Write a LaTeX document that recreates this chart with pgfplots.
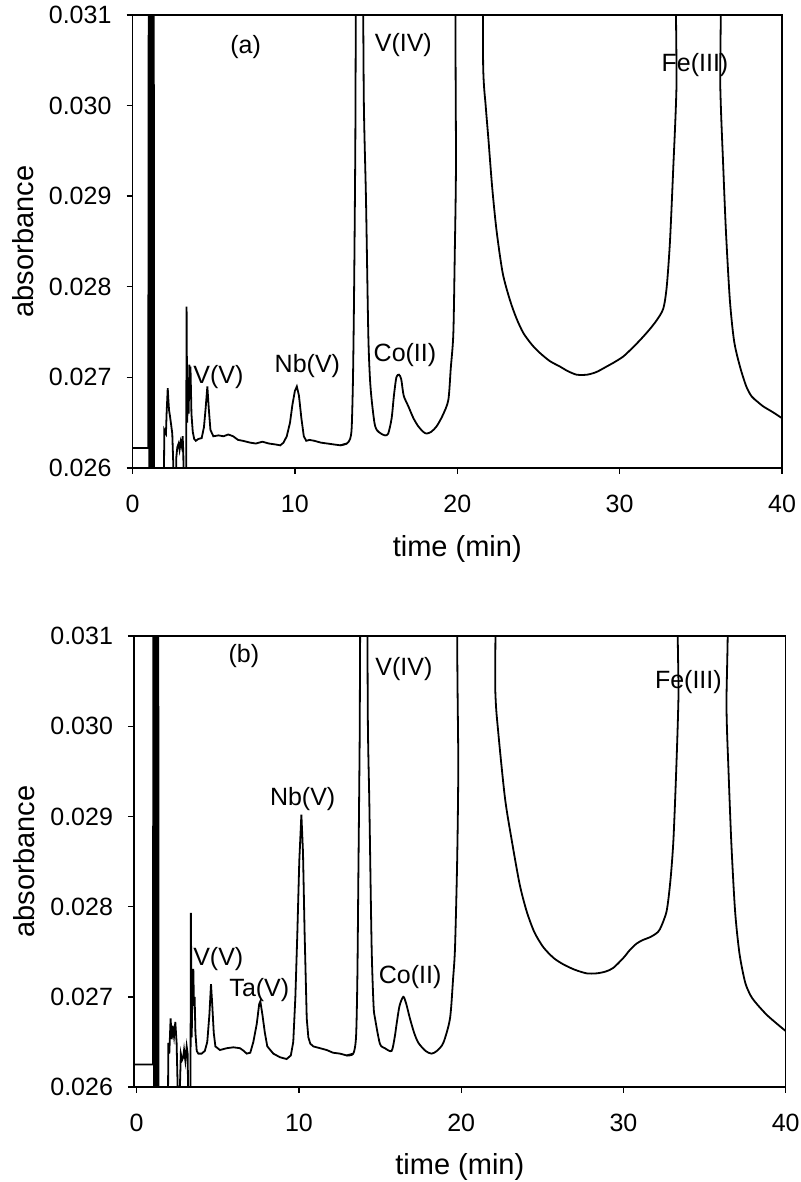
\documentclass[border=0pt]{standalone}
\usepackage{fontspec}
\setmainfont{Liberation Sans}
\usepackage{pgfplots}
\pgfplotsset{compat=1.18}
\newcommand{\annfont}{\fontsize{12.5}{15}\selectfont}
\pgfplotsset{
  chrom/.style={
    scale only axis, anchor=south west,
    xmax=40, ymin=0.026, ymax=0.031,
    xtick={0,10,20,30,40},
    ytick={0.026,0.027,0.028,0.029,0.030,0.031},
    tick align=outside, xtick pos=left, ytick pos=left,
    major tick length=3pt,
    axis line style={line width=0.7pt},
    tick style={line width=0.7pt, black},
    scaled y ticks=false,
    yticklabel style={/pgf/number format/fixed,/pgf/number format/fixed zerofill,/pgf/number format/precision=3, xshift=-4pt},
    xticklabel style={yshift=-7pt},
    /pgf/number format/assume math mode=true,
    tick label style={font=\fontsize{12.5}{14}\selectfont},
    label style={font=\fontsize{14.5}{17}\selectfont},
    xlabel={time (min)}, ylabel={absorbance},
    ylabel style={at={(axis description cs:-0.168,0.5)}, anchor=center},
    cycle list={{black, line width=0.9pt, no markers}},
  },
  sharp/.style={black, line width=0.9pt, no markers},
  smoothp/.style={black, line width=0.9pt, no markers, smooth, tension=0.45},
}
\begin{document}
\begin{tikzpicture}
\path[use as bounding box] (0,0) rectangle (400pt,591pt);
% ---------------- (a) ----------------
\begin{axis}[chrom, at={(66.25pt,357pt)}, width=324.75pt, height=226.5pt, xmin=0,
  xlabel style={at={(axis description cs:0.5,-0.179)}, anchor=center}]
\addplot[sharp] coordinates {
(0,0.02622)(0.97,0.02622)
(1.00,0.0318)(1.04,0.0252)(1.08,0.0318)(1.12,0.0252)(1.16,0.0318)(1.20,0.0252)(1.24,0.0318)(1.28,0.0252)(1.31,0.0318)(1.33,0.0252)
(1.90,0.0252)(1.96,0.02642)(2.06,0.02638)(2.10,0.02660)(2.17,0.02688)(2.21,0.02675)(2.25,0.02664)(2.31,0.02657)(2.37,0.02649)(2.45,0.02638)(2.51,0.02605)(2.55,0.0255)
(2.66,0.0255)(2.70,0.02612)(2.76,0.02623)(2.84,0.02627)(2.90,0.02620)(2.97,0.02629)(3.03,0.02624)(3.09,0.02635)(3.13,0.02616)(3.17,0.0255)
(3.30,0.0255)(3.33,0.02778)(3.37,0.02650)(3.42,0.02700)(3.46,0.02660)(3.50,0.02714)(3.54,0.02680)(3.57,0.02712)(3.63,0.02660)(3.71,0.02640)(3.80,0.02632)(3.90,0.02630)(4.05,0.02632)(4.26,0.02633)(4.40,0.02645)(4.50,0.02665)(4.61,0.02690)(4.70,0.02665)(4.80,0.02642)(4.98,0.02635)
(5.3,0.02636)(5.6,0.02635)(5.9,0.02637)(6.2,0.02635)(6.5,0.02631)(6.8,0.02630)(7.24,0.02628)(7.6,0.02627)(8.0,0.02629)(8.4,0.02627)(8.8,0.02626)(9.1,0.02625)(9.3,0.02628)(9.5,0.02635)(9.7,0.02650)(9.85,0.02670)(10.0,0.02685)(10.12,0.02690)(10.25,0.02680)(10.40,0.02655)(10.55,0.02635)(10.7,0.02630)(10.9,0.02631)(11.2,0.02630)(11.6,0.02628)(12.0,0.02627)(12.4,0.02626)(12.8,0.02625)(13.2,0.02627)
};
\addplot[smoothp] coordinates {
(12.8,0.02625)(13.2,0.02627)(13.4,0.02632)(13.5,0.02645)(13.58,0.0270)(13.65,0.0280)(13.72,0.0295)(13.8,0.0318)
(14.15,0.0318)(14.25,0.0300)(14.38,0.02896)(14.52,0.02749)(14.62,0.0270)(14.73,0.02675)(14.9,0.02650)(15.04,0.02642)(15.3,0.02638)(15.55,0.02636)(15.75,0.02638)(15.96,0.02655)(16.1,0.02680)(16.25,0.02700)(16.41,0.02703)(16.55,0.02698)(16.7,0.02680)(16.99,0.02668)(17.3,0.02655)(17.6,0.02646)(17.9,0.02640)(18.11,0.02638)(18.4,0.02640)(18.73,0.02646)(19.1,0.02658)(19.45,0.02675)(19.6,0.0271)(19.76,0.02749)(19.85,0.0284)(19.92,0.0293)(20.0,0.0318)
(21.45,0.0318)(21.6,0.0304)(21.75,0.03000)(21.91,0.02965)(22.15,0.02910)(22.42,0.02862)(22.8,0.02815)(23.25,0.02785)(23.65,0.02765)(24.07,0.02749)(24.6,0.02736)(25.09,0.02727)(25.7,0.02718)(26.32,0.02712)(26.8,0.02707)(27.35,0.02703)(28.0,0.02703)(28.58,0.02706)(29.2,0.02712)(29.7,0.02717)(30.22,0.02723)(30.7,0.02731)(31.25,0.02741)(31.8,0.02752)(32.28,0.02763)(32.69,0.02776)(32.9,0.0280)(33.1,0.0285)(33.3,0.0293)(33.5,0.0302)(33.65,0.0318)
(36.05,0.0318)(36.2,0.0302)(36.38,0.02933)(36.55,0.02860)(36.79,0.02785)(37.05,0.02740)(37.41,0.02712)(37.8,0.02690)(38.13,0.02679)(38.5,0.02673)(38.84,0.02668)(39.4,0.02662)(40.0,0.02655)
};
\node[font=\annfont] at (axis cs:6.97,0.03065) {(a)};
\node[font=\annfont] at (axis cs:16.68,0.03067) {V(IV)};
\node[font=\annfont] at (axis cs:34.64,0.03045) {Fe(III)};
\node[font=\annfont] at (axis cs:16.78,0.027247) {Co(II)};
\node[font=\annfont] at (axis cs:5.29,0.027008) {V(V)};
\node[font=\annfont] at (axis cs:10.77,0.02712) {Nb(V)};
\end{axis}
% ---------------- (b) ----------------
\begin{axis}[chrom, at={(67pt,47.5pt)}, width=325.85pt, height=225.5pt, xmin=-0.166,
  xlabel style={at={(axis description cs:0.5,-0.178)}, anchor=center}]
\addplot[sharp] coordinates {
(-0.166,0.02625)(1.0,0.02625)
(1.03,0.0318)(1.07,0.0252)(1.11,0.0318)(1.15,0.0252)(1.19,0.0318)(1.23,0.0252)(1.27,0.0318)(1.31,0.0252)(1.33,0.0318)(1.35,0.0252)
(1.91,0.0252)(1.95,0.02649)(2.01,0.02637)(2.09,0.02676)(2.16,0.02653)(2.22,0.02668)(2.30,0.02656)(2.38,0.02672)(2.46,0.02649)(2.55,0.0258)(2.59,0.0255)(2.65,0.02590)(2.72,0.02637)(2.80,0.02630)(2.87,0.02633)(2.92,0.02641)(3.00,0.02629)(3.08,0.02645)(3.14,0.02637)(3.18,0.0258)(3.20,0.0254)
(3.31,0.0254)(3.34,0.02793)(3.39,0.02655)(3.45,0.02720)(3.49,0.02731)(3.53,0.02690)(3.57,0.02700)(3.62,0.02660)(3.70,0.02640)(3.80,0.02637)(4.00,0.02637)(4.20,0.02640)(4.35,0.02650)(4.48,0.02680)(4.58,0.02714)(4.66,0.02690)(4.75,0.02660)(4.85,0.02645)(5.13,0.02641)(5.55,0.02643)(5.96,0.02644)(6.37,0.02643)(6.6,0.02640)(6.78,0.02637)(7.0,0.02638)(7.19,0.02650)(7.40,0.02670)(7.55,0.02692)(7.62,0.02695)(7.75,0.02680)(7.90,0.02660)(8.05,0.02645)(8.42,0.02637)(8.83,0.02633)(9.24,0.02631)(9.5,0.02635)(9.65,0.02650)(9.78,0.02700)(9.90,0.02770)(10.02,0.02850)(10.15,0.02902)(10.25,0.02860)(10.35,0.02770)(10.48,0.02676)(10.58,0.02655)(10.7,0.02648)(10.89,0.02645)(11.3,0.02643)(11.71,0.02641)(12.1,0.02638)(12.53,0.02637)(12.94,0.02635)(13.35,0.02637)
};
\addplot[smoothp] coordinates {
(12.94,0.02635)(13.35,0.02637)(13.52,0.02656)(13.60,0.0272)(13.66,0.0283)(13.74,0.0298)(13.82,0.0318)
(14.17,0.0318)(14.25,0.0300)(14.34,0.02913)(14.48,0.02755)(14.6,0.0269)(14.69,0.02676)(14.99,0.02648)(15.3,0.02643)(15.71,0.02640)(15.9,0.02655)(16.02,0.02670)(16.2,0.02690)(16.43,0.02700)(16.6,0.02693)(16.84,0.02676)(17.1,0.02660)(17.36,0.02649)(17.8,0.02640)(18.17,0.02637)(18.5,0.02640)(18.90,0.02649)(19.31,0.02676)(19.5,0.02720)(19.62,0.02755)(19.75,0.0285)(19.82,0.0295)(19.89,0.0318)
(21.95,0.0318)(22.1,0.0304)(22.29,0.02992)(22.7,0.02920)(23.11,0.02874)(23.6,0.02825)(24.03,0.02795)(24.5,0.02772)(25.06,0.02755)(25.7,0.02743)(26.29,0.02736)(27.0,0.02730)(27.73,0.02726)(28.35,0.02726)(28.9,0.02728)(29.37,0.02732)(29.99,0.02743)(30.4,0.02752)(30.81,0.02759)(31.2,0.02763)(31.63,0.02766)(32.0,0.02770)(32.25,0.02775)(32.66,0.02795)(32.9,0.0283)(33.08,0.02874)(33.25,0.0295)(33.39,0.03032)(33.53,0.0318)
(36.26,0.0318)(36.35,0.0302)(36.47,0.02953)(36.65,0.02870)(36.88,0.02795)(37.15,0.02748)(37.50,0.02716)(37.85,0.02701)(38.22,0.02692)(38.83,0.02680)(39.4,0.02671)(40.0,0.02662)
};
\node[font=\annfont] at (axis cs:6.61,0.030775) {(b)};
\node[font=\annfont] at (axis cs:16.47,0.030633) {V(IV)};
\node[font=\annfont] at (axis cs:34.0,0.030494) {Fe(III)};
\node[font=\annfont] at (axis cs:16.85,0.027216) {Co(II)};
\node[font=\annfont] at (axis cs:10.23,0.029194) {Nb(V)};
\node[font=\annfont] at (axis cs:5.03,0.027415) {V(V)};
\node[font=\annfont] at (axis cs:7.56,0.027079) {Ta(V)};
\end{axis}
\end{tikzpicture}
\end{document}
